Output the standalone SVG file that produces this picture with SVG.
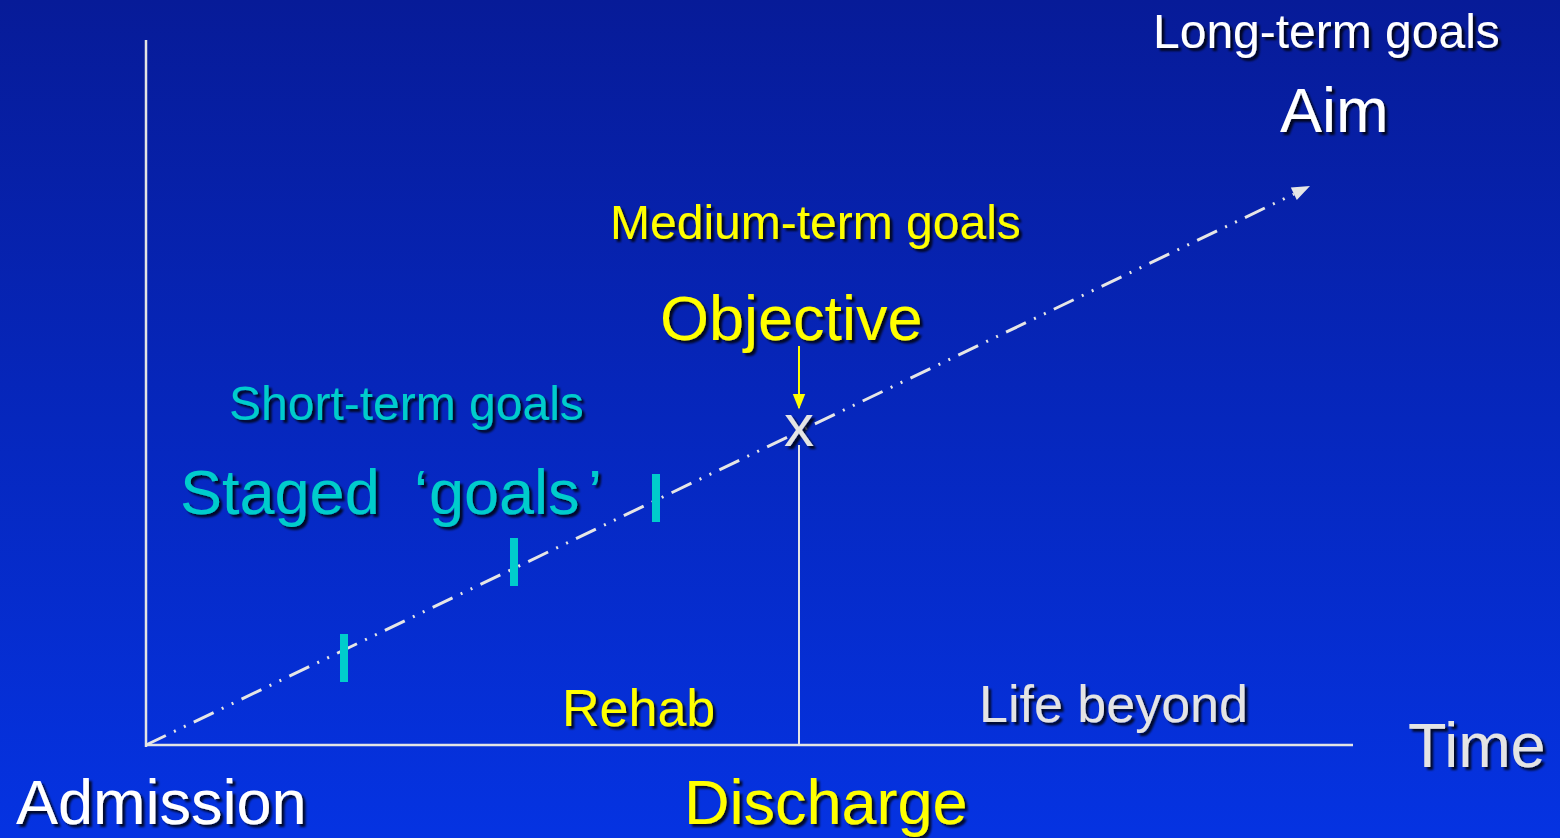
<svg xmlns="http://www.w3.org/2000/svg" width="1560" height="838" viewBox="0 0 1560 838">
<defs>
<linearGradient id="bg" x1="0" y1="0" x2="0" y2="1">
<stop offset="0" stop-color="#071b98"/>
<stop offset="1" stop-color="#0533e2"/>
</linearGradient>
<filter id="sh" x="-10%" y="-30%" width="130%" height="170%">
<feDropShadow dx="3" dy="3" stdDeviation="1.2" flood-color="#000" flood-opacity="0.8"/>
</filter>
<marker id="ya" viewBox="0 0 10 10" refX="9" refY="5" markerWidth="8" markerHeight="8" orient="auto" markerUnits="strokeWidth">
<path d="M0,1 L10,5 L0,9 z" fill="#ffff00"/>
</marker>
</defs>
<style>
text{font-family:"Liberation Sans",Arial,sans-serif;filter:url(#sh)}
.big{font-size:63px}
.med{font-size:48px}
.mid{font-size:52px}
.w{fill:#ffffff}
.g{fill:#e4e4e4}
.y{fill:#ffff00}
.c{fill:#00cccc}
.axis{stroke:#e4e4e4;stroke-width:2.5;fill:none}
</style>
<rect width="1560" height="838" fill="url(#bg)"/>
<g id="connectors">
<line class="axis" x1="146" y1="40" x2="146" y2="747"/>
<line class="axis" x1="145" y1="745" x2="1353" y2="745"/>
<line x1="799" y1="445" x2="799" y2="745" stroke="#e4e4e4" stroke-width="2"/>
<line x1="146" y1="745" x2="1294" y2="194" stroke="#e6e6e6" stroke-width="3" stroke-dasharray="22 9 2 9 2 9"/>
<polygon points="1310,186 1296.8,200.1 1290.8,187.5" fill="#e6e6e6"/>
<line x1="799" y1="346" x2="799" y2="408" stroke="#ffff00" stroke-width="2" marker-end="url(#ya)"/>
</g>
<g id="ticks" fill="#00cccc">
<rect x="340" y="634" width="8" height="48"/>
<rect x="510" y="538" width="8" height="48"/>
<rect x="652" y="474" width="8" height="48"/>
</g>
<g id="long-term"><text class="med w" x="1153" y="48">Long-term goals</text></g>
<g id="aim"><text class="big w" x="1280" y="132">Aim</text></g>
<g id="medium-term"><text class="med y" x="610" y="239">Medium-term goals</text></g>
<g id="objective"><text class="big y" x="660" y="340">Objective</text></g>
<g id="x-mark"><text class="g" x="799" y="446" font-size="60" text-anchor="middle">x</text></g>
<g id="short-term"><text class="med c" x="229" y="420">Short-term goals</text></g>
<g id="staged"><text class="big c" x="180" y="514">Staged<tspan x="414">‘</tspan><tspan x="429">goals</tspan><tspan x="588">’</tspan></text></g>
<g id="rehab"><text class="mid y" x="562" y="726">Rehab</text></g>
<g id="life-beyond"><text class="mid g" x="979" y="722">Life beyond</text></g>
<g id="time"><text class="big g" x="1408" y="767">Time</text></g>
<g id="admission"><text class="big w" x="16" y="824">Admission</text></g>
<g id="discharge"><text class="big y" x="684" y="824">Discharge</text></g>
</svg>
